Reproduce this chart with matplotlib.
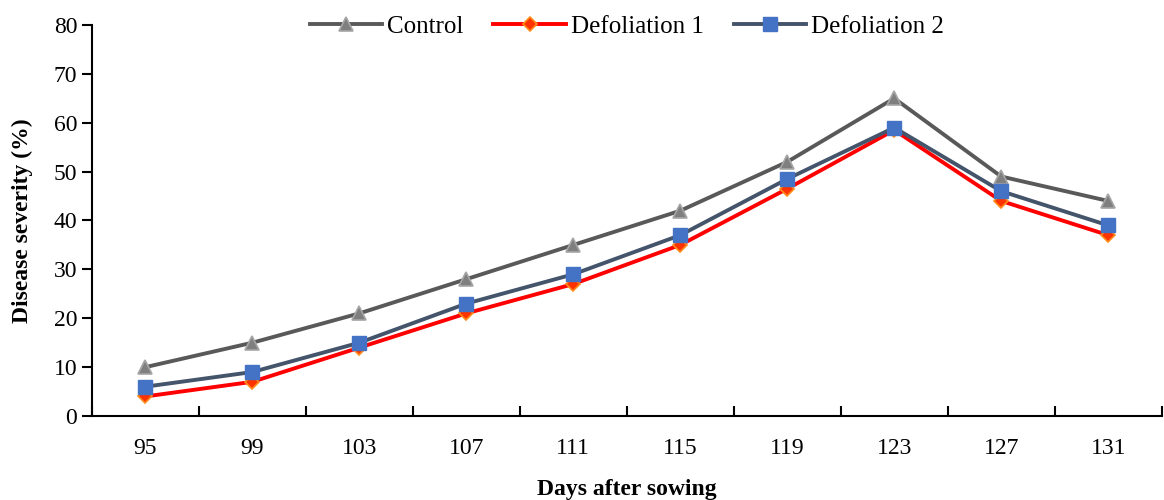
import numpy as np
import matplotlib.pyplot as plt

plt.rcParams['font.family'] = ['Liberation Serif', 'DejaVu Serif']

days = ['95', '99', '103', '107', '111', '115', '119', '123', '127', '131']
control = [10, 15, 21, 28, 35, 42, 52, 65, 49, 44]
defol1 = [4, 7, 14, 21, 27, 35, 46.5, 58.5, 44, 37]
defol2 = [6, 9, 15, 23, 29, 37, 48.5, 59, 46, 39]

fig = plt.figure(figsize=(11.64, 5), dpi=100)
ax = fig.add_axes([0.079, 0.168, 0.919, 0.782])

x = np.arange(len(days))
ax.plot(x, control, color='#595959', lw=2.8, marker='^', ms=10,
        mfc='#7f7f7f', mec='#a6a6a6', mew=1.2, label='Control')
ax.plot(x, defol1, color='#ff0000', lw=2.8, marker='D', ms=7,
        mfc='#ff3300', mec='#ff8c1a', mew=1.2, label='Defoliation 1')
ax.plot(x, defol2, color='#44546a', lw=2.8, marker='s', ms=10,
        mfc='#4472c4', mec='#4472c4', label='Defoliation 2')

ax.set_xlim(-0.5, len(days) - 0.5)
ax.set_ylim(0, 80)
ax.set_yticks(range(0, 81, 10))
ax.set_xticks(x)
ax.set_xticklabels(days)
ax.set_xticks(np.arange(-0.5, len(days) + 0.5, 1), minor=True)
ax.tick_params(axis='x', which='major', length=0, pad=16, labelsize=17)
ax.tick_params(axis='x', which='minor', length=7, width=1.5, direction='in')
ax.tick_params(axis='y', length=7, width=1.5, direction='out', labelsize=17)

ax.spines['top'].set_visible(False)
ax.spines['right'].set_visible(False)
ax.spines['left'].set_linewidth(1.5)
ax.spines['bottom'].set_linewidth(1.5)

ax.set_ylabel('Disease severity (%)', fontsize=17, fontweight='bold', labelpad=15)
ax.set_xlabel('Days after sowing', fontsize=17, fontweight='bold', labelpad=14)

ax.legend(loc='center', bbox_to_anchor=(0.5, 0.995), ncol=3, frameon=False,
          fontsize=18, handlelength=2.9, columnspacing=1.2, handletextpad=0.2)

plt.savefig('out.png', dpi=100)
